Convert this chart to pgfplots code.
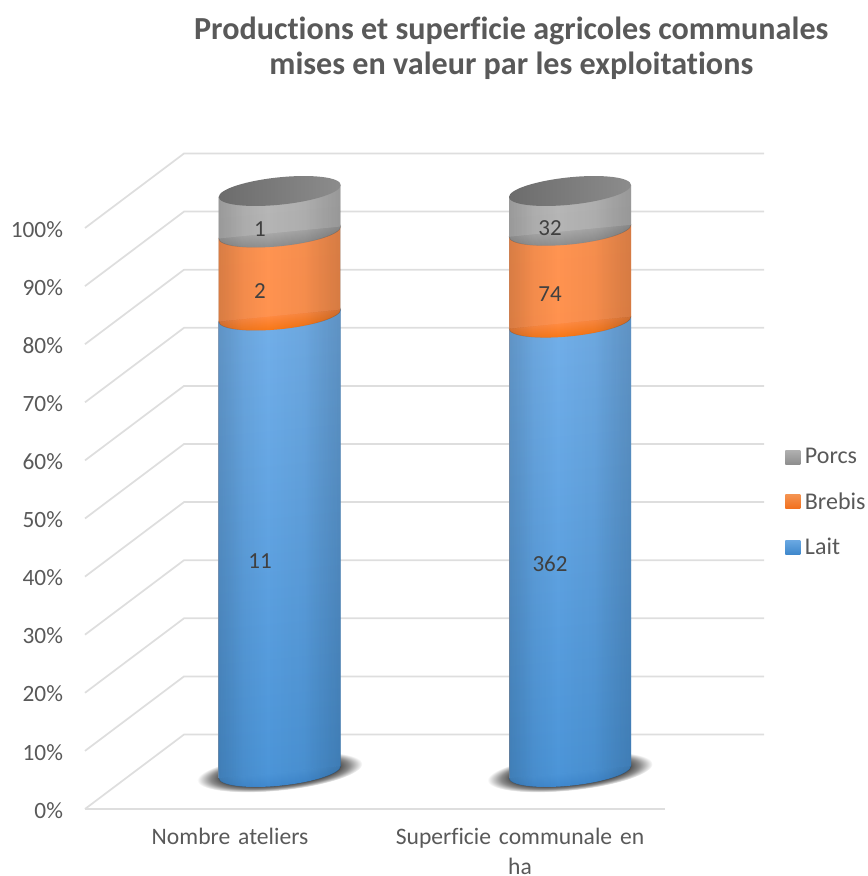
\documentclass[border=0pt]{standalone}
\usepackage{fontspec}
\setmainfont[Ligatures=NoCommon]{Carlito}
\usepackage{pgfplots}
\pgfplotsset{compat=1.18}
\usetikzlibrary{fadings}

\definecolor{gridgray}{HTML}{DEDEDE}
\definecolor{labelgray}{HTML}{595959}
\definecolor{datagray}{HTML}{404040}
\definecolor{BlueEdge}{HTML}{3F88CE}
\definecolor{BlueLow}{HTML}{4C95D8}
\definecolor{BlueHigh}{HTML}{72AFE9}
\definecolor{OrangeEdge}{HTML}{F87716}
\definecolor{OrangeLow}{HTML}{FF8A40}
\definecolor{OrangeHigh}{HTML}{FF9452}
\definecolor{GrayEdge}{HTML}{8E8E8E}
\definecolor{GrayLow}{HTML}{A8A8A8}
\definecolor{GrayHigh}{HTML}{B6B6B6}
\definecolor{CapLeft}{HTML}{6C6C6C}
\definecolor{CapRight}{HTML}{8C8C8C}
\definecolor{KeyGrayA}{HTML}{B0B0B0}
\definecolor{KeyGrayB}{HTML}{8E8E8E}
\definecolor{KeyOrangeA}{HTML}{F4924F}
\definecolor{KeyOrangeB}{HTML}{F26F1C}
\definecolor{KeyBlueA}{HTML}{6AA8E2}
\definecolor{KeyBlueB}{HTML}{3F88CC}

% side lighting of a cylinder: dark rims, highlight left of the middle
\pgfdeclarehorizontalshading{cylmask}{100bp}{
  color(0bp)=(black!33); color(8bp)=(black!45); color(20bp)=(black!75);
  color(35bp)=(black!95); color(45bp)=(black!100); color(60bp)=(black!96);
  color(75bp)=(black!80); color(88bp)=(black!50); color(100bp)=(black!25)}
\pgfdeclarefading{cylfade}{\pgfuseshading{cylmask}}
\pgfdeclareradialshading{baseshadow}{\pgfpointorigin}{
  color(0bp)=(black!75); color(17bp)=(black!75); color(21bp)=(black!45);
  color(25bp)=(white); color(50bp)=(white)}

\tikzset{
  lit/.style={postaction={fill=black, path fading=cylfade, fit fading=true}},
}

% lower rim of a segment: level with the side at its middle, darker below
\newcommand{\capmark}[3]{%
  \pgfdeclareplotmark{#1}{%
    \path[draw=none, top color=#2, bottom color=#3, middle color=#2, lit]
      (0pt,0pt) ellipse [x radius=45.75pt, y radius=10.3pt];}}
\capmark{blueend}{BlueLow}{BlueEdge}
\capmark{orangeend}{OrangeLow}{OrangeEdge}
\capmark{grayend}{GrayLow}{GrayEdge}
\pgfdeclareplotmark{topcap}{%
  \path[draw=none, left color=CapLeft, right color=CapRight]
    (0pt,0pt) ellipse [x radius=45.75pt, y radius=10.3pt];}
\pgfdeclareplotmark{shadow}{%
  \path[draw=none, shading=baseshadow] (0pt,0pt) ellipse [x radius=62pt, y radius=14pt];}

\pgfplotsset{
  cylinder axis/.style={
    hide axis, scale only axis, clip=false,
    width=91.5pt, height=435.75pt,
    xmin=-0.5, xmax=0.5, ymin=0, ymax=100,
    at={(0pt,0pt)}, anchor=south},
  segment end/.style={only marks, mark=#1},
  segment side/.style 2 args={draw=none, bottom color=#1, top color=#2, lit},
}

% one stacked cylinder: #1 and #2 are the cumulative shares, in percent,
% at the top of the lower and the middle segment.  Marks of an axis lie
% above its paths, so every segment side gets an axis with the end of the
% segment resting on it.
\newcommand{\cylinder}[2]{%
  \begin{axis}[cylinder axis]
    \addplot[segment end=shadow] coordinates {(0,0)};
    \addplot[segment end=blueend] coordinates {(0,0)};
  \end{axis}
  \begin{axis}[cylinder axis]
    \addplot[segment side={BlueLow}{BlueHigh}]
      coordinates {(-0.5,0) (0.5,0) (0.5,#1) (-0.5,#1)} \closedcycle;
    \addplot[segment end=orangeend] coordinates {(0,#1)};
  \end{axis}
  \begin{axis}[cylinder axis]
    \addplot[segment side={OrangeLow}{OrangeHigh}]
      coordinates {(-0.5,#1) (0.5,#1) (0.5,#2) (-0.5,#2)} \closedcycle;
    \addplot[segment end=grayend] coordinates {(0,#2)};
  \end{axis}
  \begin{axis}[cylinder axis]
    \addplot[segment side={GrayLow}{GrayHigh}]
      coordinates {(-0.5,#2) (0.5,#2) (0.5,100) (-0.5,100)} \closedcycle;
    \addplot[segment end=topcap] coordinates {(0,100)};
  \end{axis}}

% a gridline: from the front edge at #1 back to the rear wall at #2
\newcommand{\gridline}[2]{%
  \addplot[gridgray, line width=1.3pt, forget plot] coordinates
    {(-0.5,#1) (-0.1586,#2) (1.8414,#2)};}

\begin{document}
\begin{tikzpicture}
\path[use as bounding box] (0pt,0pt) rectangle (651pt,657pt);

% walls, floor, category and percent labels, legend and title
\begin{axis}[
  scale only axis, clip=false,
  at={(63.75pt,50.25pt)}, anchor=south west,
  width=435pt, height=435.75pt,
  xmin=-0.5, xmax=1.5, ymin=0, ymax=100,
  axis line style={draw=none}, tick style={draw=none},
  xtick={0,1},
  xticklabels={Nombre ateliers,{Superficie communale en\\ha}},
  ytick={0,10,...,100},
  yticklabels={0\%,10\%,20\%,30\%,40\%,50\%,60\%,70\%,80\%,90\%,100\%},
  x tick label style={font=\fontsize{17.7}{22}\selectfont, text=labelgray,
    align=center, text width=215pt, yshift=-11pt},
  y tick label style={font=\fontsize{17.5}{20}\selectfont, text=labelgray,
    xshift=-13pt, yshift=-1pt},
  title={Productions et superficie agricoles communales\\mises en valeur par les exploitations},
  title style={font=\bfseries\fontsize{24.1}{26.4}\selectfont, text=labelgray, align=center,
    at={(0.735,1)}, anchor=south, yshift=102pt},
  legend style={draw=none, fill=none, at={(1.2,0.5)}, anchor=west, yshift=12pt,
    font=\fontsize{18}{20}\selectfont, text=labelgray, row sep=16pt,
    /tikz/column 1/.style={column sep=1.5pt}},
  legend cell align=left,
  legend image code/.code={\path[#1] (0pt,-5.25pt) rectangle (11.25pt,5.25pt);},
]
  \addlegendimage{draw=none, top color=KeyGrayA, bottom color=KeyGrayB}
  \addlegendentry{Porcs}
  \addlegendimage{draw=none, top color=KeyOrangeA, bottom color=KeyOrangeB}
  \addlegendentry{Brebis}
  \addlegendimage{draw=none, top color=KeyBlueA, bottom color=KeyBlueB}
  \addlegendentry{Lait}
  \gridline{0}{12.82}
  \gridline{10}{22.82}
  \gridline{20}{32.82}
  \gridline{30}{42.82}
  \gridline{40}{52.82}
  \gridline{50}{62.82}
  \gridline{60}{72.82}
  \gridline{70}{82.82}
  \gridline{80}{92.82}
  \gridline{90}{102.82}
  \gridline{100}{112.82}
  \addplot[gridgray, line width=1.3pt, forget plot] coordinates {(-0.5,0) (1.5,0)};
\end{axis}

% counts 11, 2, 1 of 14 and areas 362, 74, 32 of 468
\begin{scope}[shift={(209.8pt,78pt)}, yslant=0.098]
  \cylinder{78.57}{92.86}
\end{scope}
\begin{scope}[shift={(427.5pt,78pt)}, yslant=0.098]
  \cylinder{77.35}{93.16}
\end{scope}

% source values printed on the segments
\begin{axis}[
  hide axis, scale only axis, clip=false,
  at={(86.25pt,65.25pt)}, anchor=south west,
  width=435pt, height=435.75pt,
  xmin=-0.5, xmax=1.5, ymin=0, ymax=100,
  nodes near coords, point meta=explicit symbolic,
  every node near coord/.style={anchor=center, text=datagray,
    font=\fontsize{17.25}{20}\selectfont},
]
  \addplot[draw=none] table[meta=v] {
    x y v
    0 39.29 11
    0 85.71 2
    0 96.43 1
    1 38.68 362
    1 85.26 74
    1 96.58 32
  };
\end{axis}
\end{tikzpicture}
\end{document}
